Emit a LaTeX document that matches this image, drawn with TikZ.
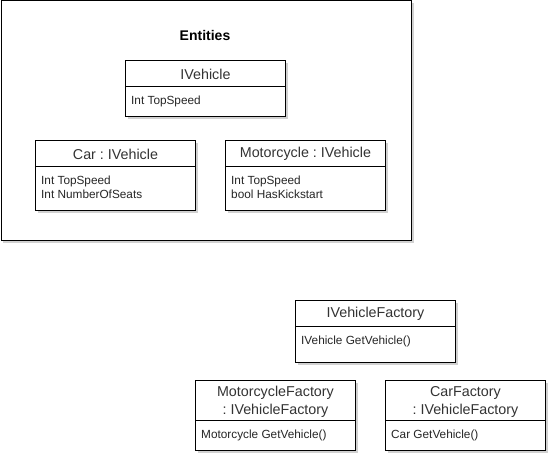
\documentclass[tikz,border=0pt]{standalone}
\usepackage{fontspec}
\setmainfont{Liberation Sans}
\frenchspacing
\begin{document}
\begin{tikzpicture}[x=1pt,y=-1pt,
  frame/.style={draw=black,fill=white,line width=0.9pt,inner sep=0pt,anchor=north west},
  shade/.style={fill=black!18,draw=none},
  hdr/.style={font=\fontsize{14.3}{17}\selectfont,text=black!80,inner sep=0pt,align=center},
  attr/.style={font=\fontsize{11.8}{14}\selectfont,text=black!85,inner sep=0pt,anchor=base west},
  ttl/.style={font=\fontsize{14}{16}\selectfont\bfseries,inner sep=0pt}]
\useasboundingbox (0,0) rectangle (557,465);
\fill[white] (0,0) rectangle (557,465);
% outer Entities frame
\fill[shade] (3,3) rectangle (413.5,243.5);
\node[frame,minimum width=410pt,minimum height=240pt] (ent) at (0.5,0.5) {};
\node[ttl] (enttitle) at (205,35.5) {Entities};
% class boxes
\foreach \nm/\x/\y/\h in {ivehicle/125/60/56, car/35/140/70, moto/225/140/70,
    ifac/295/300/62, mfac/195/380/70, cfac/385/380/70}{
  \fill[shade] (\x+3,\y+3) rectangle (\x+163,\y+\h+3);
  \node[frame,minimum width=160pt,minimum height=\h pt] (\nm) at (\x,\y) {};
}
% headers
\node[hdr] (ivehicle-h) at ([yshift=-14pt]ivehicle.north) {IVehicle};
\draw[line width=0.9pt] ([yshift=-26pt]ivehicle.north west) -- ([yshift=-26pt]ivehicle.north east);
\node[attr] (ivehicle-a1) at ([xshift=6pt,yshift=-44.5pt]ivehicle.north west) {Int TopSpeed};

\node[hdr] (car-h) at ([yshift=-14pt]car.north) {Car : IVehicle};
\draw[line width=0.9pt] ([yshift=-26pt]car.north west) -- ([yshift=-26pt]car.north east);
\node[attr] (car-a1) at ([xshift=6pt,yshift=-44.5pt]car.north west) {Int TopSpeed};
\node[attr] (car-a2) at ([xshift=6pt,yshift=-58.5pt]car.north west) {Int NumberOfSeats};

\node[hdr] (moto-h) at ([yshift=-14pt]moto.north) {Motorcycle : IVehicle};
\draw[line width=0.9pt] ([yshift=-26pt]moto.north west) -- ([yshift=-26pt]moto.north east);
\node[attr] (moto-a1) at ([xshift=6pt,yshift=-44.5pt]moto.north west) {Int TopSpeed};
\node[attr] (moto-a2) at ([xshift=6pt,yshift=-58.5pt]moto.north west) {bool HasKickstart};

\node[hdr] (ifac-h) at ([yshift=-14pt]ifac.north) {IVehicleFactory};
\draw[line width=0.9pt] ([yshift=-26pt]ifac.north west) -- ([yshift=-26pt]ifac.north east);
\node[attr] (ifac-a1) at ([xshift=6pt,yshift=-44.5pt]ifac.north west) {IVehicle GetVehicle()};

\node[hdr] (mfac-h1) at ([yshift=-13pt]mfac.north) {MotorcycleFactory};
\node[hdr] (mfac-h2) at ([yshift=-31pt]mfac.north) {: IVehicleFactory};
\draw[line width=0.9pt] ([yshift=-40pt]mfac.north west) -- ([yshift=-40pt]mfac.north east);
\node[attr] (mfac-a1) at ([xshift=6pt,yshift=-58.5pt]mfac.north west) {Motorcycle GetVehicle()};

\node[hdr] (cfac-h1) at ([yshift=-13pt]cfac.north) {CarFactory};
\node[hdr] (cfac-h2) at ([yshift=-31pt]cfac.north) {: IVehicleFactory};
\draw[line width=0.9pt] ([yshift=-40pt]cfac.north west) -- ([yshift=-40pt]cfac.north east);
\node[attr] (cfac-a1) at ([xshift=6pt,yshift=-58.5pt]cfac.north west) {Car GetVehicle()};
\end{tikzpicture}
\end{document}
